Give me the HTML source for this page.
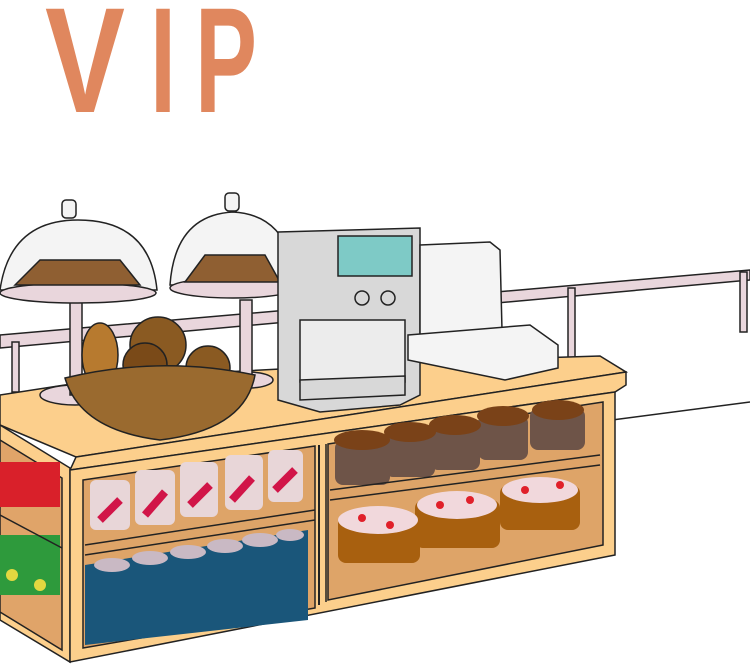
<!DOCTYPE html>
<html><head><meta charset="utf-8"><style>
html,body{margin:0;padding:0;background:#fff;}
svg{display:block;}
</style></head><body>
<svg width="750" height="665" viewBox="0 0 750 665" xmlns="http://www.w3.org/2000/svg">
<!-- VIP -->
<g font-family="Liberation Sans, sans-serif" font-size="150" font-weight="bold" fill="#e0875e">
<text x="45" y="112" textLength="80" lengthAdjust="spacingAndGlyphs">V</text>
<text x="150" y="112" textLength="26" lengthAdjust="spacingAndGlyphs">I</text>
<text x="195" y="112" textLength="62" lengthAdjust="spacingAndGlyphs">P</text>
</g>
<!-- railing -->
<g stroke="#222" stroke-width="1.5" fill="#e9d6dc">
<polygon points="0,335 750,270 750,280 0,348"/>
<rect x="12" y="342" width="7" height="50"/>
<rect x="568" y="288" width="7" height="70"/>
<rect x="740" y="272" width="7" height="60"/>
</g>
<line x1="612" y1="420" x2="750" y2="402" stroke="#222" stroke-width="1.5"/>
<!-- counter top -->
<g stroke="#222" stroke-width="1.5">
<polygon points="0,395 110,378 300,368 470,360 600,356 626,372 76,457 0,425" fill="#fccf8c"/>
<polygon points="76,457 626,372 626,385 615,392 70,470" fill="#fccf8c"/>
<polygon points="0,425 70,468 70,662 0,620" fill="#fccf8c"/>
<polygon points="0,440 62,478 62,650 0,612" fill="#e0a469"/>
<polygon points="70,470 615,392 615,555 70,662" fill="#fccf8c"/>
<polygon points="83,480 315,446 315,608 83,648" fill="#dea468"/>
<polygon points="328,444 603,402 603,545 328,600" fill="#dea468"/>
</g>
<!-- left side items -->
<g>
<rect x="0" y="462" width="60" height="45" fill="#d9202a"/>
<rect x="0" y="535" width="60" height="60" fill="#2e9a3c"/>
<circle cx="12" cy="575" r="6" fill="#e2d840"/><circle cx="40" cy="585" r="6" fill="#e2d840"/>
<line x1="0" y1="515" x2="62" y2="548" stroke="#222" stroke-width="1.5"/>
</g>
<!-- bottles -->
<g fill="#e8d6d8">
<rect x="90" y="480" width="40" height="50" rx="6"/>
<rect x="135" y="470" width="40" height="55" rx="6"/>
<rect x="180" y="462" width="38" height="55" rx="6"/>
<rect x="225" y="455" width="38" height="55" rx="6"/>
<rect x="268" y="450" width="35" height="52" rx="6"/>
</g>
<g stroke="#d11548" stroke-width="8"><line x1="100" y1="520" x2="120" y2="500"/><line x1="145" y1="515" x2="165" y2="492"/><line x1="190" y1="505" x2="210" y2="485"/><line x1="232" y1="500" x2="252" y2="478"/><line x1="275" y1="490" x2="295" y2="470"/></g>
<line x1="85" y1="545" x2="315" y2="510" stroke="#222" stroke-width="1.5"/>
<line x1="85" y1="555" x2="315" y2="520" stroke="#222" stroke-width="1.5"/>
<!-- blue cans -->
<polygon points="85,565 308,530 308,620 85,645" fill="#1a567a"/>
<g fill="#c9b9c4"><ellipse cx="112" cy="565" rx="18" ry="7"/><ellipse cx="150" cy="558" rx="18" ry="7"/><ellipse cx="188" cy="552" rx="18" ry="7"/><ellipse cx="225" cy="546" rx="18" ry="7"/><ellipse cx="260" cy="540" rx="18" ry="7"/><ellipse cx="290" cy="535" rx="14" ry="6"/></g>
<!-- muffins -->
<g fill="#6e5448">
<rect x="335" y="440" width="55" height="45" rx="8"/><rect x="385" y="432" width="50" height="45" rx="8"/><rect x="430" y="425" width="50" height="45" rx="8"/><rect x="478" y="415" width="50" height="45" rx="8"/><rect x="530" y="408" width="55" height="42" rx="8"/>
</g>
<g fill="#7a4218"><ellipse cx="362" cy="440" rx="28" ry="10"/><ellipse cx="410" cy="432" rx="26" ry="10"/><ellipse cx="455" cy="425" rx="26" ry="10"/><ellipse cx="503" cy="416" rx="26" ry="10"/><ellipse cx="558" cy="410" rx="26" ry="10"/></g>
<line x1="330" y1="490" x2="600" y2="455" stroke="#222" stroke-width="1.5"/>
<line x1="330" y1="500" x2="600" y2="465" stroke="#222" stroke-width="1.5"/>
<!-- cakes -->
<g fill="#a8600f"><rect x="338" y="515" width="82" height="48" rx="8"/><rect x="415" y="500" width="85" height="48" rx="8"/><rect x="500" y="485" width="80" height="45" rx="8"/></g>
<g fill="#f1d8dc"><ellipse cx="378" cy="520" rx="40" ry="14"/><ellipse cx="457" cy="505" rx="40" ry="14"/><ellipse cx="540" cy="490" rx="38" ry="13"/></g>
<g fill="#e0202a"><circle cx="362" cy="518" r="4"/><circle cx="390" cy="525" r="4"/><circle cx="440" cy="505" r="4"/><circle cx="470" cy="500" r="4"/><circle cx="525" cy="490" r="4"/><circle cx="560" cy="485" r="4"/></g>
<line x1="319" y1="445" x2="319" y2="605" stroke="#222" stroke-width="2"/>
<line x1="326" y1="444" x2="326" y2="602" stroke="#222" stroke-width="1.5"/>
<!-- dome stands -->
<g stroke="#222" stroke-width="1.5">
<ellipse cx="75" cy="395" rx="35" ry="10" fill="#e9d6dc"/>
<rect x="70" y="300" width="12" height="95" fill="#e9d6dc"/>
<ellipse cx="248" cy="380" rx="25" ry="8" fill="#e9d6dc"/>
<rect x="240" y="300" width="12" height="80" fill="#e9d6dc"/>
<path d="M0,290 Q10,220 78,220 Q150,220 157,290 Z" fill="#f4f4f4"/>
<ellipse cx="78" cy="293" rx="78" ry="10" fill="#e9d6dc"/>
<rect x="62" y="200" width="14" height="18" rx="4" fill="#f4f4f4"/>
<path d="M15,285 L40,260 L120,260 L140,285 Z" fill="#8f5f32"/>
<path d="M170,285 Q175,215 233,212 Q290,215 296,285 Z" fill="#f4f4f4"/>
<ellipse cx="233" cy="288" rx="63" ry="10" fill="#e9d6dc"/>
<rect x="225" y="193" width="14" height="18" rx="4" fill="#f4f4f4"/>
<path d="M185,282 L205,255 L265,255 L280,282 Z" fill="#8f5f32"/>
</g>
<!-- coffee machine -->
<g stroke="#222" stroke-width="1.5">
<polygon points="278,232 420,228 420,395 400,405 320,412 278,400" fill="#d8d8d8"/>
<rect x="338" y="236" width="74" height="40" fill="#7ecac6"/>
<circle cx="362" cy="298" r="7" fill="#d8d8d8"/><circle cx="388" cy="298" r="7" fill="#d8d8d8"/>
<rect x="300" y="320" width="105" height="62" fill="#ececec"/>
<polygon points="300,380 405,376 405,395 300,400" fill="#d8d8d8"/>
<polygon points="420,245 490,242 500,250 502,330 420,335" fill="#f4f4f4"/>
<polygon points="408,335 530,325 558,345 558,368 505,380 408,360" fill="#f4f4f4"/>
</g>
<!-- basket -->
<g stroke="#222" stroke-width="1.5">
<ellipse cx="100" cy="355" rx="18" ry="32" fill="#b77a2f"/>
<circle cx="158" cy="345" r="28" fill="#8a5a22"/>
<circle cx="145" cy="365" r="22" fill="#7a4a18"/>
<circle cx="208" cy="368" r="22" fill="#8a5a22"/>
<path d="M65,378 Q160,355 255,375 Q245,430 160,440 Q80,430 65,378 Z" fill="#9a6a2f"/>
</g>
</svg>
</body></html>
